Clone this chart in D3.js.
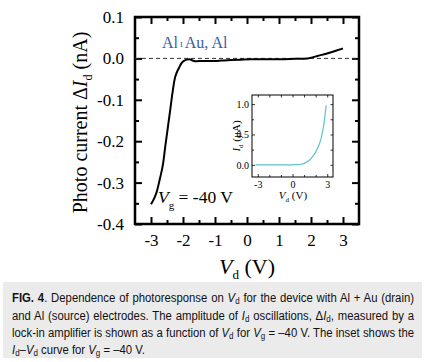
<!DOCTYPE html>
<html><head><meta charset="utf-8">
<script src="https://cdn.jsdelivr.net/npm/d3@7"></script>
<style>body{margin:0;background:#fff}svg{display:block}</style>
</head><body>
<svg id="c" width="425" height="362"></svg>
<script>
// ---- data ----
const vd = [-3.0, -2.9, -2.82, -2.72, -2.62, -2.55, -2.47, -2.4, -2.33, -2.26, -2.2, -2.12, -2.05, -1.97, -1.88, -1.8, -1.7, -1.6, -1.4, -1.2, -1.0, -0.8, -0.5, -0.2, 0.1, 0.5, 1.0, 1.5, 1.9, 2.2, 2.5, 2.8, 3.0];
const dId = [-0.352, -0.338, -0.322, -0.29, -0.253, -0.21, -0.165, -0.125, -0.084, -0.05, -0.035, -0.022, -0.012, -0.006, -0.003, -0.002, -0.005, -0.007, -0.006, -0.006, -0.006, -0.005, -0.004, -0.003, -0.002, -0.002, -0.002, -0.001, 0.0, 0.006, 0.012, 0.019, 0.024];
const insetVd = [-3.2, -2.5, -1.5, -0.5, 0.3, 0.7, 1.0, 1.25, 1.5, 1.75, 2.0, 2.25, 2.45, 2.6, 2.72, 2.8, 2.86, 2.92];
const insetId = [0, 0, 0, 0, 0.003, 0.01, 0.025, 0.05, 0.085, 0.14, 0.21, 0.31, 0.42, 0.55, 0.68, 0.8, 0.9, 0.98];
const xTicks = [-3, -2, -1, 0, 1, 2, 3];
const xTickLabels = ["-3", "-2", "-1", "0", "1", "2", "3"];
const yTicks = [0.1, 0.0, -0.1, -0.2, -0.3, -0.4];
const yTickLabels = ["0.1", "0.0", "-0.1", "-0.2", "-0.3", "-0.4"];
const insetXTicks = [-3, 0, 3];
const insetXTickLabels = ["-3", "0", "3"];
const insetYTicks = [0, 0.5, 1.0];
const insetYTickLabels = ["0.0", "0.5", "1.0"];

const svg = d3.select("#c");
const serif = "'Liberation Serif','Times New Roman',serif";

// ---- main plot ----
const L = 135, R = 359, T = 17, B = 224;
const x = d3.scaleLinear().domain([-3.5, 3.5]).range([L, R]);
const y = d3.scaleLinear().domain([-0.4, 0.1]).range([B, T]);

function styleAxis(g){ g.select(".domain").remove(); g.selectAll("line").attr("stroke","#000").attr("stroke-width",2); }

const xMinor = d3.range(-3.5, 3.51, 0.5).filter(v => Math.abs(v - Math.round(v)) > 0.1 && v > -3.5 && v < 3.5);
const yMinor = [0.05, -0.05, -0.15, -0.25, -0.35];

svg.append("g").attr("transform",`translate(0,${B})`)
  .call(d3.axisBottom(x).tickValues(xTicks).tickSize(-7).tickPadding(10).tickFormat((d,i)=>xTickLabels[i]))
  .call(styleAxis).call(g=>g.selectAll("text").attr("font-family",serif).attr("font-size",17).attr("fill","#000"));
svg.append("g").attr("transform",`translate(0,${B})`)
  .call(d3.axisBottom(x).tickValues(xMinor).tickSize(-4).tickFormat(""))
  .call(styleAxis);
svg.append("g").attr("transform",`translate(0,${T})`)
  .call(d3.axisTop(x).tickValues(xTicks).tickSize(-7).tickFormat("")).call(styleAxis);
svg.append("g").attr("transform",`translate(0,${T})`)
  .call(d3.axisTop(x).tickValues(xMinor).tickSize(-4).tickFormat("")).call(styleAxis);
svg.append("g").attr("transform",`translate(${L},0)`)
  .call(d3.axisLeft(y).tickValues(yTicks).tickSize(-7).tickPadding(11).tickFormat((d,i)=>yTickLabels[i]))
  .call(styleAxis).call(g=>g.selectAll("text").attr("font-family",serif).attr("font-size",17).attr("fill","#000"));
svg.append("g").attr("transform",`translate(${L},0)`)
  .call(d3.axisLeft(y).tickValues(yMinor).tickSize(-4).tickFormat("")).call(styleAxis);
svg.append("g").attr("transform",`translate(${R},0)`)
  .call(d3.axisRight(y).tickValues(yTicks).tickSize(-7).tickFormat("")).call(styleAxis);
svg.append("g").attr("transform",`translate(${R},0)`)
  .call(d3.axisRight(y).tickValues(yMinor).tickSize(-4).tickFormat("")).call(styleAxis);

svg.append("rect").attr("x",L).attr("y",T).attr("width",R-L).attr("height",B-T)
  .attr("fill","none").attr("stroke","#000").attr("stroke-width",2.5);

svg.append("line").attr("x1",L).attr("x2",R).attr("y1",y(0)).attr("y2",y(0))
  .attr("stroke","#333").attr("stroke-width",1).attr("stroke-dasharray","4,3");

svg.append("path").datum(d3.zip(vd, dId))
  .attr("d", d3.line().x(d=>x(d[0])).y(d=>y(d[1])).curve(d3.curveMonotoneX))
  .attr("fill","none").attr("stroke","#000").attr("stroke-width",2);

const ylab = svg.append("text").attr("transform",`translate(87,${(T+B)/2+2}) rotate(-90)`)
  .attr("text-anchor","middle").attr("font-family",serif).attr("font-size",20).attr("fill","#000");
ylab.append("tspan").text("Photo current  Δ");
ylab.append("tspan").attr("font-style","italic").text("I");
ylab.append("tspan").attr("font-size",12).attr("dy",5).text("d");
ylab.append("tspan").attr("dy",-5).text(" (nA)");

const xlab = svg.append("text").attr("x",(L+R)/2).attr("y",274).attr("text-anchor","middle")
  .attr("font-family",serif).attr("font-size",22).attr("fill","#000");
xlab.append("tspan").attr("font-style","italic").text("V");
xlab.append("tspan").attr("font-size",13).attr("dy",5).text("d");
xlab.append("tspan").attr("dy",-5).text(" (V)");

const leg = svg.append("text").attr("x",162).attr("y",48).attr("font-family",serif)
  .attr("font-size",16).attr("fill","#3a5da0");
leg.append("tspan").text("Al");
leg.append("tspan").attr("font-size",10).attr("dx",2).attr("dy",-1).text("ı");
leg.append("tspan").attr("dy",1).attr("dx",2).text("Au, Al");

const vg = svg.append("text").attr("x",158).attr("y",203).attr("font-family",serif)
  .attr("font-size",17.5).attr("fill","#000");
vg.append("tspan").attr("font-style","italic").text("V");
vg.append("tspan").attr("font-size",11).attr("dy",6).text("g");
vg.append("tspan").attr("dy",-6).text(" = -40 V");

// ---- inset ----
const iL = 252, iR = 333, iT = 95, iB = 177;
const ix = d3.scaleLinear().domain([-3.5, 3.5]).range([iL, iR]);
const iy = d3.scaleLinear().domain([-0.2, 1.15]).range([iB, iT]);
function styleIn(g){ g.select(".domain").remove(); g.selectAll("line").attr("stroke","#000").attr("stroke-width",0.8); }
const ixMinor = [-2, -1, 1, 2];
const iyMinor = [0.25, 0.75];
svg.append("g").attr("transform",`translate(0,${iB})`)
  .call(d3.axisBottom(ix).tickValues(insetXTicks).tickSize(-3).tickPadding(4).tickFormat((d,i)=>insetXTickLabels[i]))
  .call(styleIn).call(g=>g.selectAll("text").attr("font-family",serif).attr("font-size",10).attr("fill","#000"));
svg.append("g").attr("transform",`translate(0,${iB})`)
  .call(d3.axisBottom(ix).tickValues(ixMinor).tickSize(-2).tickFormat("")).call(styleIn);
svg.append("g").attr("transform",`translate(0,${iT})`)
  .call(d3.axisTop(ix).tickValues(insetXTicks.concat(ixMinor)).tickSize(-2.5).tickFormat("")).call(styleIn);
svg.append("g").attr("transform",`translate(${iL},0)`)
  .call(d3.axisLeft(iy).tickValues(insetYTicks).tickSize(-3).tickPadding(3).tickFormat((d,i)=>insetYTickLabels[i]))
  .call(styleIn).call(g=>g.selectAll("text").attr("font-family",serif).attr("font-size",10).attr("fill","#000"));
svg.append("g").attr("transform",`translate(${iL},0)`)
  .call(d3.axisLeft(iy).tickValues(iyMinor).tickSize(-2).tickFormat("")).call(styleIn);
svg.append("g").attr("transform",`translate(${iR},0)`)
  .call(d3.axisRight(iy).tickValues(insetYTicks.concat(iyMinor)).tickSize(-2.5).tickFormat("")).call(styleIn);
svg.append("rect").attr("x",iL).attr("y",iT).attr("width",iR-iL).attr("height",iB-iT)
  .attr("fill","none").attr("stroke","#000").attr("stroke-width",1);
svg.append("path").datum(d3.zip(insetVd, insetId))
  .attr("d", d3.line().x(d=>ix(d[0])).y(d=>iy(d[1])).curve(d3.curveMonotoneX))
  .attr("fill","none").attr("stroke","#5cc4cc").attr("stroke-width",1.2);

const iyl = svg.append("text").attr("transform",`translate(240,${(iT+iB)/2}) rotate(-90)`)
  .attr("text-anchor","middle").attr("font-family",serif).attr("font-size",11).attr("fill","#000");
iyl.append("tspan").attr("font-style","italic").text("I");
iyl.append("tspan").attr("font-size",7).attr("dy",3).text("d");
iyl.append("tspan").attr("dy",-3).text(" (μA)");
const ixl = svg.append("text").attr("x",293).attr("y",199).attr("text-anchor","middle")
  .attr("font-family",serif).attr("font-size",11).attr("fill","#000");
ixl.append("tspan").attr("font-style","italic").text("V");
ixl.append("tspan").attr("font-size",7).attr("dy",3).text("d");
ixl.append("tspan").attr("dy",-3).text(" (V)");

// ---- caption ----
svg.append("rect").attr("x",3).attr("y",282).attr("width",419).attr("height",76).attr("fill","#ebebeb");
const sans = "'Liberation Sans Narrow','Arial Narrow','Liberation Sans',Arial,sans-serif";
const lines = [
  {j:true, parts:[["FIG. 4","b"],[". Dependence of photoresponse on "],["V","i"],["d","s"],[" for the device with Al + Au (drain)"]]},
  {j:true, parts:[["and Al (source) electrodes. The amplitude of "],["I","i"],["d","s"],[" oscillations, Δ"],["I","i"],["d","s"],[", measured by a"]]},
  {j:true, parts:[["lock-in amplifier is shown as a function of "],["V","i"],["d","s"],[" for "],["V","i"],["g","s"],[" = –40 V. The inset shows the"]]},
  {j:false, parts:[["I","i"],["d","s"],["–"],["V","i"],["d","s"],[" curve for "],["V","i"],["g","s"],[" = –40 V."]]}
];
const baselines = [302, 319.5, 337, 354];
const fullW = 402, lastW = 133;
const texts = lines.map((ln, k) => {
  const g = svg.append("g");
  const t = g.append("text").attr("x",0).attr("y",0).attr("font-family",sans)
    .attr("font-size",13.5).attr("fill","#111");
  let sub = false;
  ln.parts.forEach(p => {
    const s = t.append("tspan").text(p[0]);
    if (p[1]==="b") s.attr("font-weight","bold");
    if (p[1]==="i") s.attr("font-style","italic");
    if (p[1]==="s") { s.attr("font-size",9.5).attr("dy",2); sub = true; }
    else if (sub) { s.attr("dy",-2); sub = false; }
  });
  return {g, t, ln, k};
});
const c = lastW / texts[3].t.node().getComputedTextLength();
texts.forEach(({g, t, ln, k}) => {
  g.attr("transform", `translate(12,${baselines[k]}) scale(${c},1)`);
  if (ln.j) {
    const w = t.node().getComputedTextLength();
    const nSp = ln.parts.map(p=>p[0]).join("").split(" ").length - 1;
    if (nSp > 0) t.attr("word-spacing", (fullW / c - w) / nSp);
  }
});
</script>
</body></html>
